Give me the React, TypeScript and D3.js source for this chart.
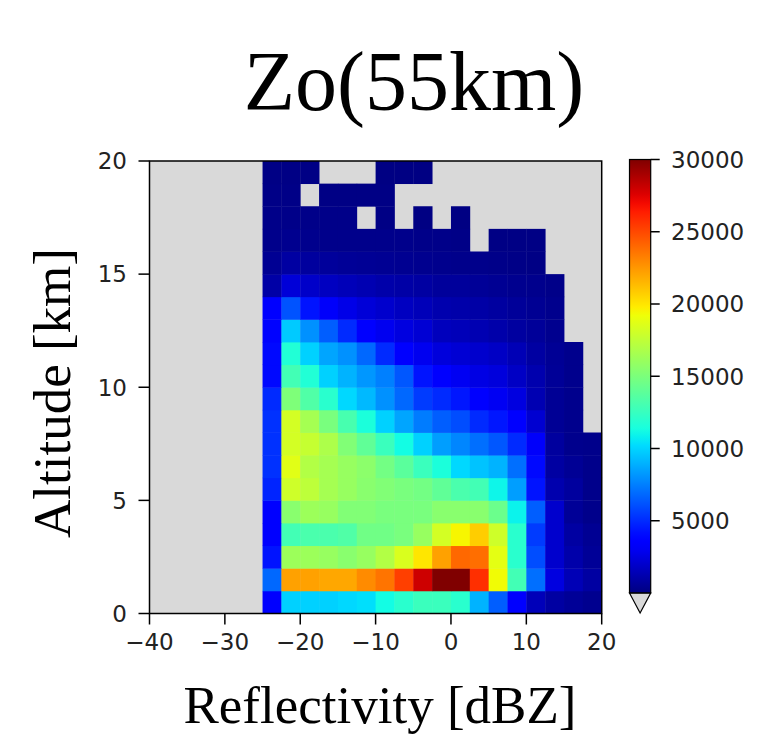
import React from "react";
import * as d3 from "d3";

// Bin definitions
const dbzStart = -25;
const dbzStep = 2.5;
const altStep = 1;

// Counts per altitude bin (row 0 = 0-1 km ... row 19 = 19-20 km), 18 reflectivity bins from -25 to 20 dBZ
const counts: number[][] = [
  [3400, 9900, 9900, 9900, 10100, 10300, 11200, 12000, 12600, 12600, 12000, 9000, 6500, 3700, 1500, 900, 600, 400],
  [6800, 22200, 22200, 22000, 22000, 22900, 23600, 25300, 28000, 31000, 31000, 25800, 19300, 12900, 7000, 2500, 1400, 900],
  [4300, 16200, 16200, 16000, 15500, 16000, 17000, 18400, 20000, 22200, 24000, 23800, 18800, 12000, 6000, 2000, 1100, 600],
  [3300, 12900, 13200, 13200, 13400, 14600, 14600, 14900, 16000, 18200, 19500, 20800, 18000, 12000, 5500, 2000, 900, 500],
  [3400, 15500, 16200, 16000, 15200, 15200, 14900, 14900, 14900, 15500, 15500, 15500, 14400, 10900, 6500, 2000, 600, 300],
  [4800, 18000, 17400, 16500, 16000, 15500, 15200, 14900, 14700, 14000, 13200, 12900, 11000, 8400, 4300, 1200, 800, 300],
  [5200, 18700, 17000, 16500, 16000, 15600, 14700, 13800, 12600, 11500, 10100, 9500, 9000, 7000, 4000, 900, 550, 300],
  [5200, 18200, 17700, 16800, 15200, 14000, 12600, 11200, 9900, 8400, 7700, 7000, 6300, 5000, 3200, 800, 350, 300],
  [5200, 18200, 16500, 14900, 13100, 11500, 9900, 8600, 7400, 6500, 6000, 5000, 4400, 3400, 2100, 550, 350, 0],
  [5000, 15100, 13400, 12000, 10100, 9200, 8000, 6800, 5500, 5000, 4400, 3400, 3000, 2500, 1300, 550, 350, 0],
  [4000, 12900, 11700, 9900, 9000, 8200, 7500, 6300, 4300, 3700, 3000, 2600, 2400, 1800, 1200, 600, 350, 0],
  [4000, 11700, 9900, 8600, 8000, 6800, 5000, 3400, 2900, 2400, 2200, 2000, 1800, 1400, 900, 550, 350, 0],
  [3800, 9700, 8000, 6500, 5000, 3400, 2900, 2500, 2200, 1600, 1500, 1300, 1100, 850, 650, 400, 0, 0],
  [3300, 6200, 4300, 3200, 2700, 2300, 2000, 1700, 1500, 1200, 1100, 1000, 850, 650, 500, 350, 0, 0],
  [1000, 2300, 1900, 1700, 1500, 1300, 1100, 1000, 900, 700, 700, 600, 500, 400, 350, 250, 0, 0],
  [500, 900, 800, 700, 600, 550, 500, 450, 400, 350, 300, 300, 250, 200, 150, 0, 0, 0],
  [300, 400, 350, 300, 300, 300, 300, 300, 250, 250, 200, 0, 150, 150, 150, 0, 0, 0],
  [250, 250, 250, 250, 250, 0, 150, 0, 100, 0, 100, 0, 0, 0, 0, 0, 0, 0],
  [200, 200, 0, 150, 150, 150, 150, 0, 0, 0, 0, 0, 0, 0, 0, 0, 0, 0],
  [150, 150, 150, 0, 0, 0, 100, 100, 100, 0, 0, 0, 0, 0, 0, 0, 0, 0],
];

const xTicks = [-40, -30, -20, -10, 0, 10, 20];
const yTicks = [0, 5, 10, 15, 20];
const cbTicks = [5000, 10000, 15000, 20000, 25000, 30000];

const titleText = "Zo(55km)";
const xLabel = "Reflectivity [dBZ]";
const yLabel = "Altitude [km]";

const vmax = 30000;
const underColor = "#d9d9d9";

// matplotlib jet
const jr = d3.scaleLinear<number>().domain([0, 0.35, 0.66, 0.89, 1]).range([0, 0, 1, 1, 0.5]).clamp(true);
const jg = d3.scaleLinear<number>().domain([0, 0.125, 0.375, 0.64, 0.91, 1]).range([0, 0, 1, 1, 0, 0]).clamp(true);
const jb = d3.scaleLinear<number>().domain([0, 0.11, 0.34, 0.65, 1]).range([0.5, 1, 1, 0, 0]).clamp(true);
const jet = (t: number) => {
  const tt = Math.max(0, Math.min(1, t));
  return d3.rgb(jr(tt) * 255, jg(tt) * 255, jb(tt) * 255).formatHex();
};

export default function App() {
  const W = 776, H = 737;
  const x = d3.scaleLinear().domain([-40, 20]).range([149.5, 601.7]);
  const y = d3.scaleLinear().domain([0, 20]).range([613.5, 161]);
  const cb = d3.scaleLinear().domain([0, vmax]).range([593, 159.5]);
  const cbX0 = 629.5, cbX1 = 650.7;
  const tickFont = "DejaVu Sans, sans-serif";
  const serif = "Liberation Serif, Times New Roman, serif";

  const gradStops = d3.range(0, 1.0001, 0.02);

  return (
    <svg width={W} height={H} style={{ position: "absolute", left: 0, top: 0, background: "#fff" }}>
      <defs>
        <linearGradient id="jetg" x1="0" y1="1" x2="0" y2="0">
          {gradStops.map((t) => (
            <stop key={t} offset={t} stopColor={jet(t)} />
          ))}
        </linearGradient>
      </defs>
      <rect x={0} y={0} width={W} height={H} fill="#fff" />
      <text x={414} y={110} fontFamily={serif} fontSize={84} textAnchor="middle" fill="#000">
        {titleText}
      </text>
      {/* plot background */}
      <rect x={x(-40)} y={y(20)} width={x(20) - x(-40)} height={y(0) - y(20)} fill={underColor} />
      {counts.map((row, r) =>
        row.map((v, c) => {
          if (v <= 0) return null;
          const x0 = x(dbzStart + c * dbzStep);
          const x1 = x(dbzStart + (c + 1) * dbzStep);
          const y1 = y(r * altStep);
          const y0 = y((r + 1) * altStep);
          return (
            <rect key={`${r}-${c}`} x={x0} y={y0} width={x1 - x0 + 0.4} height={y1 - y0 + 0.4} fill={jet(v / vmax)} />
          );
        })
      )}
      <rect x={x(-40)} y={y(20)} width={x(20) - x(-40)} height={y(0) - y(20)} fill="none" stroke="#000" strokeWidth={1.5} />
      {xTicks.map((t) => (
        <g key={`xt${t}`}>
          <line x1={x(t)} x2={x(t)} y1={y(0)} y2={y(0) + 11} stroke="#000" strokeWidth={1.5} />
          <text x={x(t)} y={650} fontFamily={tickFont} fontSize={23} textAnchor="middle" fill="#222">
            {t < 0 ? `\u2212${Math.abs(t)}` : `${t}`}
          </text>
        </g>
      ))}
      {yTicks.map((t) => (
        <g key={`yt${t}`}>
          <line x1={x(-40) - 11} x2={x(-40)} y1={y(t)} y2={y(t)} stroke="#000" strokeWidth={1.5} />
          <text x={127} y={y(t)} dy="0.36em" fontFamily={tickFont} fontSize={23} textAnchor="end" fill="#222">
            {t}
          </text>
        </g>
      ))}
      <text x={380} y={723} fontFamily={serif} fontSize={53} textAnchor="middle" fill="#000">
        {xLabel}
      </text>
      <text
        transform={`translate(70, 393) rotate(-90)`}
        fontFamily={serif}
        fontSize={53}
        textAnchor="middle"
        fill="#000"
      >
        {yLabel}
      </text>
      {/* colorbar */}
      <rect x={cbX0} y={cb(vmax)} width={cbX1 - cbX0} height={cb(0) - cb(vmax)} fill="url(#jetg)" />
      <path
        d={`M${cbX0},${cb(0)} L${(cbX0 + cbX1) / 2},${cb(0) + 20} L${cbX1},${cb(0)} Z`}
        fill={underColor}
        stroke="#000"
        strokeWidth={1.2}
      />
      <rect x={cbX0} y={cb(vmax)} width={cbX1 - cbX0} height={cb(0) - cb(vmax)} fill="none" stroke="#000" strokeWidth={1.2} />
      {cbTicks.map((t) => (
        <g key={`cb${t}`}>
          <line x1={cbX1} x2={cbX1 + 9} y1={cb(t)} y2={cb(t)} stroke="#000" strokeWidth={1.5} />
          <text x={671} y={cb(t)} dy="0.36em" fontFamily={tickFont} fontSize={23} textAnchor="start" fill="#222">
            {t}
          </text>
        </g>
      ))}
    </svg>
  );
}
